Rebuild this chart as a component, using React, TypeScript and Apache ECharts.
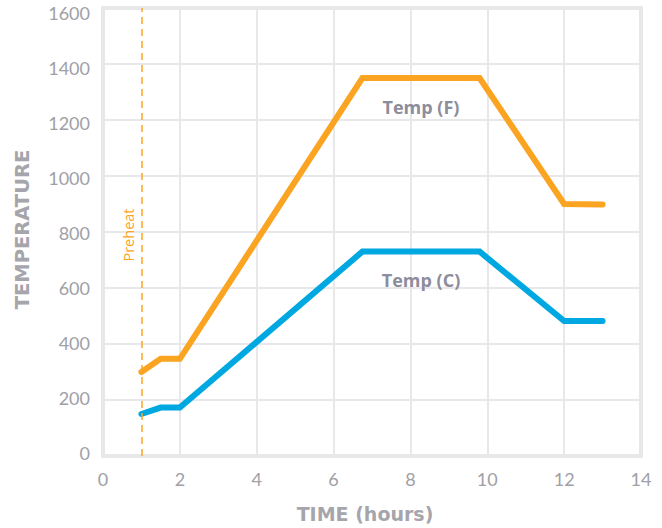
import React, { useEffect, useRef } from "react";
import * as echarts from "echarts";

const xTicks = [0, 2, 4, 6, 8, 10, 12, 14];
const yTicks = [0, 200, 400, 600, 800, 1000, 1200, 1400, 1600];
const tempF: [number, number][] = [
  [1, 300], [1.5, 347], [2, 347], [6.75, 1350], [9.8, 1350], [12, 900], [13, 898],
];
const tempC: [number, number][] = [
  [1, 150], [1.5, 173], [2, 173], [6.75, 730], [9.8, 730], [12, 482], [13, 482],
];
const preheatX = 1;

const ORANGE = "#FBA422";
const BLUE = "#00A8E2";
const GRID = "#E8E8EA";
const TICK = "#A0A0A6";
const NAME = "#A5A5AB";
const LABEL = "#8E8D9B";
const FONT = "Lato";
const NAME_FONT = "DejaVu Sans";
const LABEL_FONT = "Open Sans";

export default function App() {
  const ref = useRef<HTMLDivElement>(null);
  useEffect(() => {
    document.body.style.margin = "0";
    const chart = echarts.init(ref.current!, undefined, { renderer: "svg" });
    chart.setOption({
      animation: false,
      backgroundColor: "#fff",
      grid: {
        show: true, left: 103, right: 21, top: 8, bottom: 71,
        borderColor: GRID, borderWidth: 4, containLabel: false,
      },
      xAxis: {
        type: "value", min: xTicks[0], max: xTicks[xTicks.length - 1], interval: 2,
        name: "TIME (hours)", nameLocation: "middle", nameGap: 48,
        nameTextStyle: {
          color: NAME, fontSize: 19, fontWeight: "bold", fontFamily: NAME_FONT,
          padding: [0, 14, 0, 0],
        },
        axisLine: { show: false }, axisTick: { show: false },
        axisLabel: { color: TICK, fontSize: 18, margin: 14, fontFamily: FONT },
        splitLine: { show: true, lineStyle: { color: GRID, width: 2 } },
      },
      yAxis: [
        {
          type: "value", min: yTicks[0], max: yTicks[yTicks.length - 1], interval: 200,
          name: "TEMPERATURE", nameLocation: "middle", nameGap: 71, nameRotate: 90,
          nameTextStyle: {
            color: NAME, fontSize: 19.5, fontWeight: "bold", fontFamily: NAME_FONT,
            padding: [0, 0, 0, 5],
          },
          axisLine: { show: false }, axisTick: { show: false },
          axisLabel: { show: false },
          splitLine: { show: true, lineStyle: { color: GRID, width: 2 } },
        },
        {
          type: "value", position: "left", min: -11, max: 1620,
          axisLine: { show: false }, axisTick: { show: false },
          splitLine: { show: false },
          axisLabel: {
            color: TICK, fontSize: 18, margin: 13, fontFamily: FONT,
            customValues: yTicks,
            showMinLabel: true, showMaxLabel: true,
            formatter: (v: number) => String(v),
          },
        },
      ],
      series: [
        {
          type: "line", name: "Temp (F)", data: tempF, symbol: "none", yAxisIndex: 0,
          lineStyle: { color: ORANGE, width: 6, cap: "round", join: "miter" },
          markLine: {
            silent: true, symbol: "none",
            lineStyle: { color: ORANGE, type: [7, 5], width: 1.5 },
            label: { show: false },
            data: [{ xAxis: preheatX }],
          },
        },
        {
          type: "line", name: "Temp (C)", data: tempC, symbol: "none", yAxisIndex: 0,
          lineStyle: { color: BLUE, width: 6, cap: "round", join: "miter" },
        },
      ],
      graphic: [
        {
          type: "text", x: 421, y: 107, z: 100,
          style: {
            text: "Temp (F)", fill: LABEL, fontFamily: LABEL_FONT, fontSize: 18, fontWeight: "bold",
            align: "center", verticalAlign: "middle",
          },
        },
        {
          type: "text", x: 421, y: 280, z: 100,
          style: {
            text: "Temp (C)", fill: LABEL, fontFamily: LABEL_FONT, fontSize: 18, fontWeight: "bold",
            align: "center", verticalAlign: "middle",
          },
        },
        {
          type: "text", x: 128, y: 235, rotation: Math.PI / 2, z: 100,
          style: {
            text: "Preheat", fill: ORANGE, fontFamily: LABEL_FONT, fontSize: 14.5,
            align: "center", verticalAlign: "middle",
          },
        },
      ],
    });
    return () => chart.dispose();
  }, []);
  return <div ref={ref} style={{ width: 662, height: 528 }} />;
}
